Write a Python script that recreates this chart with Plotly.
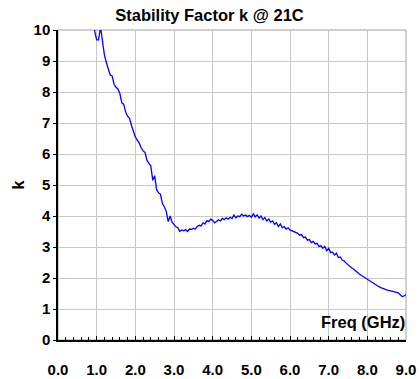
import plotly.graph_objects as go

freq_ghz = [
    0.90, 0.95, 1.00, 1.05, 1.10, 1.15, 1.20, 1.25, 1.30, 1.35, 1.40, 1.45, 1.50, 1.55, 1.60, 1.65, 1.70, 1.75, 1.80, 1.85,
    1.90, 1.95, 2.00, 2.05, 2.10, 2.15, 2.20, 2.25, 2.30, 2.35, 2.40, 2.45, 2.50, 2.55, 2.60, 2.65, 2.70, 2.75, 2.80, 2.85,
    2.90, 2.95, 3.00, 3.05, 3.10, 3.15, 3.20, 3.25, 3.30, 3.35, 3.40, 3.45, 3.50, 3.55, 3.60, 3.65, 3.70, 3.75, 3.80, 3.85,
    3.90, 3.95, 4.00, 4.05, 4.10, 4.15, 4.20, 4.25, 4.30, 4.35, 4.40, 4.45, 4.50, 4.55, 4.60, 4.65, 4.70, 4.75, 4.80, 4.85,
    4.90, 4.95, 5.00, 5.05, 5.10, 5.15, 5.20, 5.25, 5.30, 5.35, 5.40, 5.45, 5.50, 5.55, 5.60, 5.65, 5.70, 5.75, 5.80, 5.85,
    5.90, 5.95, 6.00, 6.05, 6.10, 6.15, 6.20, 6.25, 6.30, 6.35, 6.40, 6.45, 6.50, 6.55, 6.60, 6.65, 6.70, 6.75, 6.80, 6.85,
    6.90, 6.95, 7.00, 7.05, 7.10, 7.15, 7.20, 7.25, 7.30, 7.35, 7.40, 7.45, 7.50, 7.55, 7.60, 7.65, 7.70, 7.75, 7.80, 7.85,
    7.90, 7.95, 8.00, 8.05, 8.10, 8.15, 8.20, 8.25, 8.30, 8.35, 8.40, 8.45, 8.50, 8.55, 8.60, 8.65, 8.70, 8.75, 8.80, 8.85,
    8.90, 8.95, 9.00,
]

k_values = [
    10.60, 9.95, 9.68, 9.68, 10.10, 9.60, 9.20, 8.95, 8.75, 8.55, 8.52, 8.25, 8.15, 8.10, 7.95, 7.65, 7.60, 7.35, 7.22, 7.15,
    6.92, 6.75, 6.55, 6.45, 6.35, 6.20, 6.10, 6.05, 5.80, 5.70, 5.62, 5.15, 5.30, 4.85, 4.75, 4.70, 4.40, 4.30, 4.15, 3.82,
    4.00, 3.80, 3.72, 3.65, 3.62, 3.50, 3.55, 3.52, 3.56, 3.50, 3.58, 3.57, 3.60, 3.58, 3.66, 3.70, 3.68, 3.78, 3.74, 3.85,
    3.82, 3.90, 3.86, 3.78, 3.82, 3.88, 3.84, 3.92, 3.88, 3.94, 3.90, 3.96, 3.92, 4.03, 3.94, 4.00, 3.98, 4.06, 4.00, 4.03,
    3.98, 4.02, 3.96, 4.07, 3.97, 4.04, 3.93, 4.00, 3.88, 3.95, 3.84, 3.90, 3.80, 3.84, 3.73, 3.78, 3.66, 3.74, 3.62, 3.66,
    3.58, 3.62, 3.55, 3.52, 3.50, 3.45, 3.44, 3.38, 3.40, 3.30, 3.32, 3.22, 3.24, 3.14, 3.18, 3.10, 3.12, 3.02, 3.04, 2.96,
    3.02, 2.88, 2.96, 2.82, 2.84, 2.74, 2.80, 2.66, 2.68, 2.58, 2.55, 2.48, 2.42, 2.38, 2.32, 2.28, 2.22, 2.17, 2.12, 2.08,
    2.04, 2.00, 1.96, 1.90, 1.86, 1.82, 1.79, 1.76, 1.72, 1.69, 1.66, 1.64, 1.62, 1.60, 1.58, 1.57, 1.55, 1.54, 1.52, 1.46,
    1.40, 1.42, 1.46,
]

x_tick_vals = [0, 1, 2, 3, 4, 5, 6, 7, 8, 9]
x_tick_text = ["0.0", "1.0", "2.0", "3.0", "4.0", "5.0", "6.0", "7.0", "8.0", "9.0"]
y_tick_vals = [0, 1, 2, 3, 4, 5, 6, 7, 8, 9, 10]
y_tick_text = [str(v) for v in y_tick_vals]

FONT = "Arial, Liberation Sans, sans-serif"

fig = go.Figure()
fig.add_trace(go.Scatter(
    x=freq_ghz, y=k_values, mode="lines",
    line=dict(color="#0000ff", width=1.3),
    showlegend=False,
))

fig.update_layout(
    width=419, height=379,
    margin=dict(l=58, r=13, t=30, b=39, autoexpand=False),
    paper_bgcolor="white", plot_bgcolor="white",
    font=dict(family=FONT, color="black"),
    title=dict(text="<b>Stability Factor k @ 21C</b>", x=0.5, xanchor="center",
               y=1 - 15.5 / 379, yanchor="middle", font=dict(size=16.5, family=FONT)),
    xaxis=dict(
        range=[0, 9], tickvals=x_tick_vals,
        ticktext=["<b>" + t + "</b>" for t in x_tick_text],
        showgrid=True, gridcolor="#c8c8c8", gridwidth=1,
        showline=True, linecolor="black", linewidth=1.5,
        ticks="inside", ticklen=4, tickcolor="black", tickwidth=1,
        ticklabelstandoff=15,
        tickfont=dict(size=15, family=FONT),
        minor=dict(dtick=0.2, ticks="inside", ticklen=3, tickcolor="black", showgrid=False),
        zeroline=False, automargin=False,
    ),
    yaxis=dict(
        range=[0, 10], tickvals=y_tick_vals,
        ticktext=["<b>" + t + "</b>" for t in y_tick_text],
        showgrid=True, gridcolor="#c8c8c8", gridwidth=1,
        showline=True, linecolor="black", linewidth=1.5,
        ticks="outside", ticklen=3, tickcolor="black",
        tickfont=dict(size=15, family=FONT),
        title=dict(text="<b>k</b>", font=dict(size=16, family=FONT), standoff=5),
        zeroline=False, automargin=False,
    ),
    shapes=[dict(type="rect", xref="paper", yref="paper", x0=0, y0=0, x1=1, y1=1,
                 line=dict(color="#a0a0a0", width=1), layer="below")],
    annotations=[dict(text="<b>Freq (GHz)</b>", xref="paper", yref="paper",
                      x=1.003, y=0.058, xanchor="right", yanchor="middle",
                      showarrow=False, font=dict(size=16.5, family=FONT))],
)

fig.write_html(
    "out.html",
    config={"displayModeBar": False},
    post_script="document.body.style.margin='0px';document.body.style.overflow='hidden';",
)
